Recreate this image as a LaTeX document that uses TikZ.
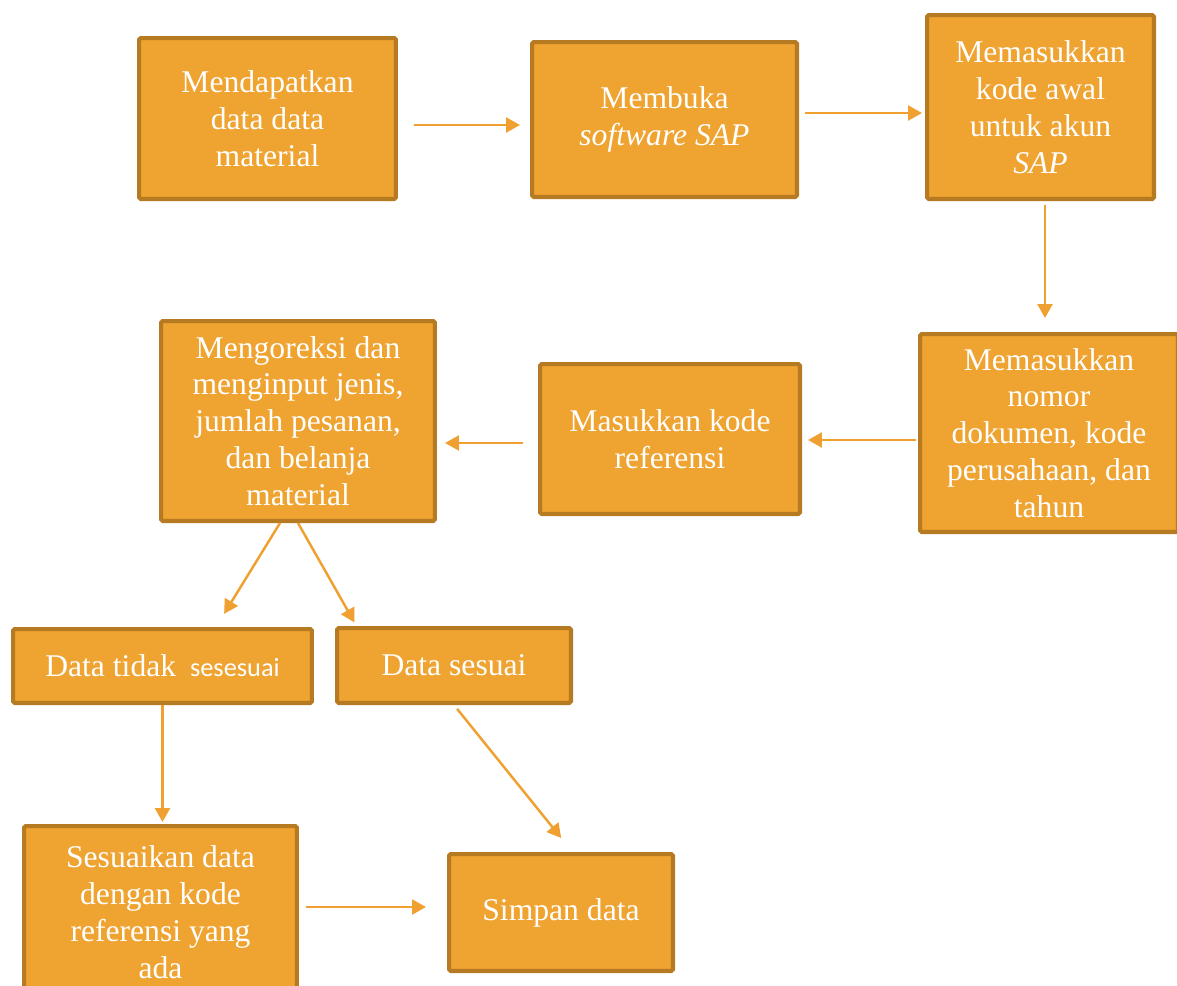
\documentclass[tikz,border=0pt]{standalone}
\usepackage{fontspec}
\setmainfont{Liberation Serif}
\newfontfamily\calfont{Carlito}
\usetikzlibrary{arrows.meta,calc}

\definecolor{boxfill}{HTML}{EFA330}
\definecolor{boxedge}{HTML}{B57A22}
\definecolor{flowcol}{HTML}{F0A030}

\begin{document}
\begin{tikzpicture}[x=0.02cm,y=-0.02cm,
	flow/.style={draw=flowcol, line width=1.4pt, -{Triangle[length=0.28cm,width=0.3cm]}}]
	\clip (0,0) rectangle (1177,985);

	\begin{scope}[every node/.style={draw=boxedge, fill=boxfill, line width=2.3pt,
		rounded corners=1pt, text=white, align=center, inner sep=0pt,
		font=\fontsize{18pt}{21pt}\selectfont}]

	\node[minimum width=5.14cm, minimum height=3.22cm] (data) at (267.5,118.5)
		{Mendapatkan\\data data\\material};
	\node[minimum width=5.30cm, minimum height=3.10cm] (sap) at (664.5,119.5)
		{Membuka\\\textit{software SAP}};
	\node[minimum width=4.54cm, minimum height=3.68cm] (kode) at (1040.5,107)
		{Memasukkan\\kode awal\\untuk akun\\\textit{SAP}};
	\node[minimum width=5.16cm, minimum height=3.96cm] (nomor) at (1049,433)
		{Memasukkan\\nomor\\dokumen, kode\\perusahaan, dan\\tahun};
	\node[minimum width=5.20cm, minimum height=3.00cm] (ref) at (670,439)
		{Masukkan kode\\referensi};
	\node[minimum width=5.48cm, minimum height=4.00cm] (koreksi) at (298,421)
		{Mengoreksi dan\\menginput jenis,\\jumlah pesanan,\\dan belanja\\material};
	\node[minimum width=5.98cm, minimum height=1.48cm] (tidak) at (162.5,666)
		{Data tidak {\calfont\fontsize{15pt}{18pt}\selectfont\ sesesuai}};
	\node[minimum width=4.68cm, minimum height=1.50cm] (sesuai) at (454,665.5)
		{Data sesuai};
	\node[minimum width=5.46cm, minimum height=3.44cm] (sesuaikan) at (160.5,912)
		{Sesuaikan data\\dengan kode\\referensi yang\\ada};
	\node[minimum width=4.48cm, minimum height=2.34cm] (simpan) at (561,912.5)
		{Simpan data};
	\end{scope}

	% connectors
	\draw[flow, shorten <=0.32cm, shorten >=0.2cm]
		([yshift=-0.13cm]data.east) -- ([yshift=-0.13cm]data.east -| sap.west);
	\draw[flow, shorten <=0.12cm, shorten >=0.06cm]
		([yshift=0.13cm]sap.east) -- ([yshift=0.13cm]sap.east -| kode.west);
	\draw[flow, shorten <=0.08cm, shorten >=0.28cm]
		([xshift=0.09cm]kode.south) -- ([xshift=0.09cm]kode.south |- nomor.north);
	\draw[flow, shorten <=0.04cm, shorten >=0.12cm]
		([yshift=-0.14cm]nomor.west) -- ([yshift=-0.14cm]nomor.west -| ref.east);
	\draw[flow, shorten <=0.3cm, shorten >=0.16cm]
		([yshift=-0.08cm]ref.west) -- ([yshift=-0.08cm]ref.west -| koreksi.east);
	\draw[flow, shorten >=0.31cm]
		([xshift=-0.36cm]koreksi.south) -- ([xshift=1.07cm]tidak.north);
	\draw[flow, shorten >=0.08cm]
		(koreksi.south) -- ([xshift=-1.95cm]sesuai.north);
	\draw[flow, shorten >=0.04cm]
		(tidak.south) -- (tidak.south |- sesuaikan.north);
	\draw[flow, shorten <=0.1cm, shorten >=0.36cm]
		(sesuai.south) -- ([xshift=0.23cm]simpan.north);
	\draw[flow, shorten <=0.14cm, shorten >=0.42cm]
		([yshift=0.1cm]sesuaikan.east) -- ([yshift=0.1cm]sesuaikan.east -| simpan.west);

\end{tikzpicture}
\end{document}
